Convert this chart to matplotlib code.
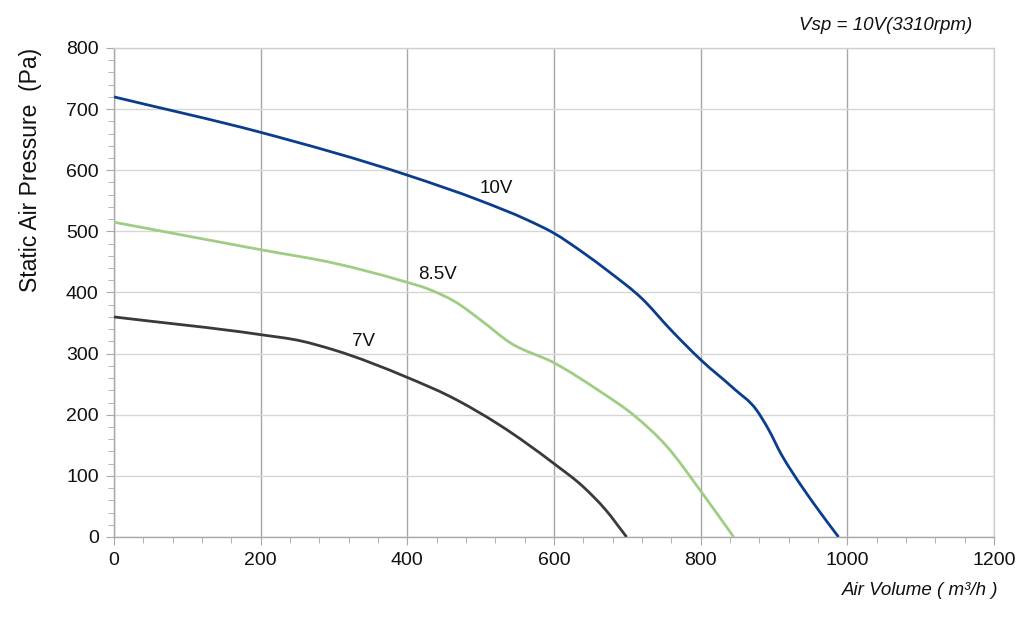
import matplotlib
matplotlib.use("Agg")
import matplotlib.pyplot as plt
import numpy as np
from matplotlib.path import Path
from matplotlib.patches import PathPatch
from matplotlib.ticker import MultipleLocator

plt.rcParams['font.family'] = ['Liberation Sans', 'DejaVu Sans']

# curves (air volume m3/h, static pressure Pa)
v10_x = [0, 200, 400, 500, 563, 600, 640, 676, 720, 760, 800, 845, 876, 893, 910, 926, 954, 988]
v10_y = [720, 662, 592, 550, 519, 497, 465, 433, 390, 338, 290, 243, 208, 175, 135, 104, 55, 0]

v85_x = [0, 200, 300, 390, 430, 465, 500, 540, 600, 663, 708, 754, 799, 845]
v85_y = [515, 470, 448, 420, 405, 385, 355, 318, 285, 238, 200, 148, 77, 0]

v7_x = [0, 200, 254, 300, 400, 458, 526, 600, 640, 670, 699]
v7_y = [360, 331, 321, 306, 261, 230, 183, 120, 82, 45, 0]

curve_labels = ['10V', '8.5V', '7V']
label_pos = [(522, 570), (441, 430), (340, 320)]
colors = ['#0b3d8e', '#9fcd86', '#3a3a3a']


def smooth_path(xs, ys):
    # cubic Hermite through the read points (three-point slopes), as Bezier segments
    x = np.asarray(xs, float)
    y = np.asarray(ys, float)
    h = np.diff(x)
    d = np.diff(y) / h
    m = np.empty_like(x)
    m[0], m[-1] = d[0], d[-1]
    m[1:-1] = (h[1:] * d[:-1] + h[:-1] * d[1:]) / (h[:-1] + h[1:])
    verts = [(x[0], y[0])]
    codes = [Path.MOVETO]
    for i in range(len(x) - 1):
        t = h[i] / 3.0
        verts += [(x[i] + t, y[i] + t * m[i]), (x[i + 1] - t, y[i + 1] - t * m[i + 1]), (x[i + 1], y[i + 1])]
        codes += [Path.CURVE4] * 3
    return Path(verts, codes)


fig = plt.figure(figsize=(10.24, 6.29), dpi=100)
ax = fig.add_axes([0.1113, 0.1463, 0.8594, 0.7774])

for xs, ys, c in zip([v10_x, v85_x, v7_x], [v10_y, v85_y, v7_y], colors):
    ax.add_patch(PathPatch(smooth_path(xs, ys), facecolor='none', edgecolor=c, lw=2.0, zorder=3))

for lab, (lx, ly) in zip(curve_labels, label_pos):
    ax.text(lx, ly, lab, fontsize=13.5, ha='center', va='center', color='#111111')

ax.set_xlim(0, 1200)
ax.set_ylim(0, 800)
ax.xaxis.set_major_locator(MultipleLocator(200))
ax.xaxis.set_minor_locator(MultipleLocator(40))
ax.yaxis.set_major_locator(MultipleLocator(100))
ax.yaxis.set_minor_locator(MultipleLocator(20))

ax.grid(axis='x', which='major', color='#a8a8a8', lw=1.0, zorder=1)
ax.grid(axis='y', which='major', color='#d6d6d6', lw=1.0, zorder=1)

for side in ['top', 'right']:
    ax.spines[side].set_color('#d0d0d0')
for side in ['left', 'bottom']:
    ax.spines[side].set_color('#a8a8a8')
for s in ax.spines.values():
    s.set_linewidth(1.0)

ax.tick_params(which='major', length=6, color='#a8a8a8', labelsize=14, labelcolor='#111111', pad=5)
ax.tick_params(which='minor', length=4, color='#a8a8a8')

fig.text(0.030, 0.924, 'Static Air Pressure  (Pa)', fontsize=16.5, rotation=90,
         ha='center', va='top', color='#111111')
fig.text(0.975, 0.062, 'Air Volume ( m³/h )', fontsize=13.5, style='italic', ha='right', va='center', color='#111111')
fig.text(0.949, 0.960, 'Vsp = 10V(3310rpm)', fontsize=13.5, style='italic', ha='right', va='center', color='#111111')

fig.savefig('out.png', dpi=100)
